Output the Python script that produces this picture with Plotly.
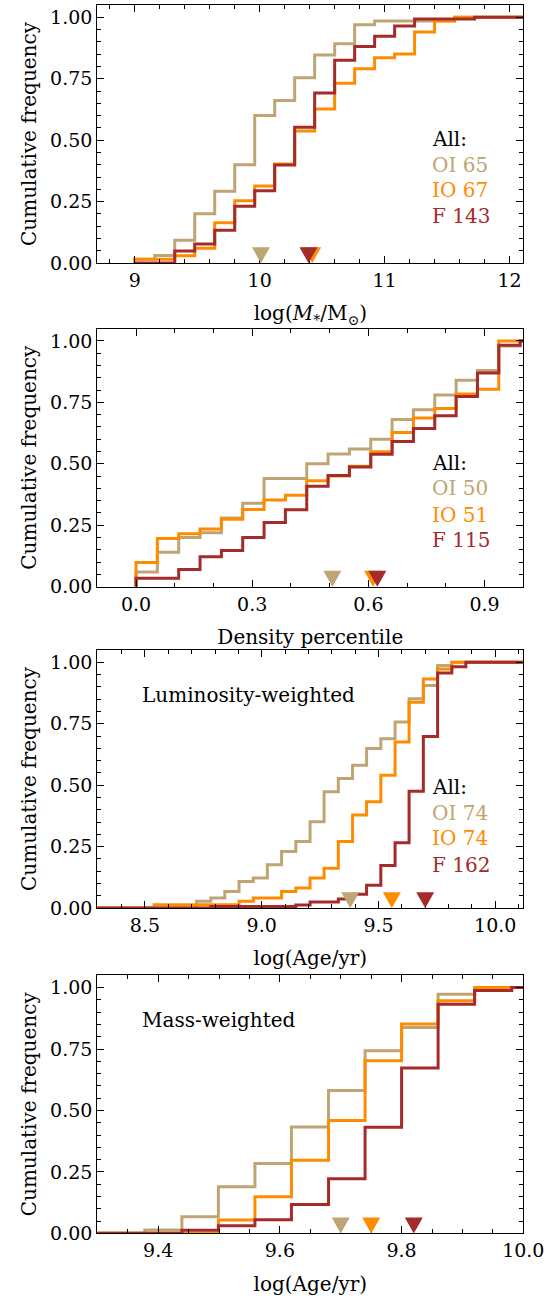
import plotly.graph_objects as go

FONT = "DejaVu Serif"
COL_OI = "#BFA573"
COL_IO = "#FF8C00"
COL_F = "#A52A2A"
series_names = ["OI", "IO", "F"]
series_colors = [COL_OI, COL_IO, COL_F]

# ---------------- Panel 1: stellar mass ----------------
mass_edges = [9.00, 9.16, 9.32, 9.48, 9.64, 9.80, 9.96, 10.12, 10.28, 10.44, 10.60,
              10.76, 10.92, 11.08, 11.24, 11.40, 11.56, 11.72, 11.88, 12.04, 12.20]
mass_OI_cum = [1, 2, 6, 13, 19, 26, 39, 43, 49, 55, 58, 63, 64, 64, 64, 64, 65, 65, 65, 65]
mass_IO_cum = [1, 1, 2, 4, 11, 17, 21, 27, 36, 42, 49, 53, 56, 57, 63, 66, 67, 67, 67, 67]
mass_F_cum = [0, 0, 7, 11, 19, 33, 42, 57, 79, 99, 118, 126, 132, 138, 142, 142, 142, 143, 143, 143]
mass_N = [65, 67, 143]
mass_medians = [10.01, 10.42, 10.39]
mass_xticks = [9, 10, 11, 12]
mass_xticktext = ["9", "10", "11", "12"]

# ---------------- Panel 2: density percentile ----------------
dens_edges = [0.0000, 0.0551, 0.1102, 0.1653, 0.2204, 0.2755, 0.3306, 0.3857, 0.4408, 0.4959,
              0.5510, 0.6061, 0.6612, 0.7163, 0.7714, 0.8265, 0.8816, 0.9367, 0.9918, 1.0469]
dens_OI_cum = [3, 7, 10, 11, 14, 17, 22, 22, 25, 27, 28, 30, 34, 36, 39, 42, 44, 49, 50]
dens_IO_cum = [5, 10, 11, 12, 14, 16, 18, 19, 22, 23, 25, 28, 32, 35, 37, 40, 41, 51, 51]
dens_F_cum = [4, 4, 8, 14, 17, 23, 30, 36, 47, 52, 56, 62, 68, 74, 80, 89, 100, 113, 115]
dens_N = [50, 51, 115]
dens_medians = [0.507, 0.612, 0.623]
dens_xticks = [0.0, 0.3, 0.6, 0.9]
dens_xticktext = ["0.0", "0.3", "0.6", "0.9"]

# ---------------- Panel 3: luminosity-weighted age ----------------
lum_edges = [8.296, 8.357, 8.417, 8.478, 8.539, 8.600, 8.660, 8.721, 8.782, 8.842, 8.903,
             8.964, 9.024, 9.085, 9.146, 9.207, 9.267, 9.328, 9.389, 9.449, 9.510, 9.571,
             9.631, 9.692, 9.753, 9.814, 9.874, 9.935, 9.996, 10.056, 10.117]
lum_OI_cum = [0, 0, 0, 0, 0, 0, 0, 2, 3, 5, 8, 9, 13, 17, 20, 26, 35, 39, 43, 48,
              51, 56, 63, 67, 73, 74, 74, 74, 74, 74]
lum_IO_cum = [0, 0, 0, 0, 1, 1, 1, 1, 1, 1, 2, 3, 3, 5, 6, 9, 12, 20, 28, 32,
              40, 50, 62, 69, 72, 74, 74, 74, 74, 74]
lum_F_cum = [0, 0, 0, 0, 0, 0, 0, 0, 1, 1, 1, 1, 1, 1, 2, 4, 4, 6, 9, 15,
             28, 43, 77, 113, 155, 159, 162, 162, 162, 162]
lum_N = [74, 74, 162]
lum_medians = [9.379, 9.557, 9.70]
lum_xticks = [8.5, 9.0, 9.5, 10.0]
lum_xticktext = ["8.5", "9.0", "9.5", "10.0"]

# ---------------- Panel 4: mass-weighted age ----------------
mw_edges = [9.258, 9.318, 9.378, 9.439, 9.499, 9.559, 9.619, 9.680, 9.740, 9.800,
            9.860, 9.920, 9.981, 10.041]
mw_OI_cum = [0, 0, 1, 5, 14, 21, 32, 43, 55, 62, 72, 74, 74]
mw_IO_cum = [0, 0, 0, 0, 4, 11, 22, 34, 52, 63, 70, 74, 74]
mw_F_cum = [0, 0, 0, 2, 5, 9, 19, 36, 70, 109, 151, 160, 162]
mw_N = [74, 74, 162]
mw_medians = [9.70, 9.75, 9.82]
mw_xticks = [9.4, 9.6, 9.8, 10.0]
mw_xticktext = ["9.4", "9.6", "9.8", "10.0"]

y_ticks = [0.0, 0.25, 0.5, 0.75, 1.0]
y_ticktext = ["0.00", "0.25", "0.50", "0.75", "1.00"]

panels = [
    dict(edges=mass_edges, cums=[mass_OI_cum, mass_IO_cum, mass_F_cum], N=mass_N,
         med=mass_medians, xr=[8.70, 12.11], tv=mass_xticks, tt=mass_xticktext,
         minor=(9.0, 0.2), title="log(<i>M</i><sub>*</sub>/M<sub>⊙</sub>)",
         legend=True, legend_y=[0.48, 0.38, 0.283, 0.182], label=None),
    dict(edges=dens_edges, cums=[dens_OI_cum, dens_IO_cum, dens_F_cum], N=dens_N,
         med=dens_medians, xr=[-0.10, 1.00], tv=dens_xticks, tt=dens_xticktext,
         minor=(0.0, 0.1), title="Density percentile",
         legend=True, legend_y=[0.478, 0.381, 0.278, 0.181], label=None),
    dict(edges=lum_edges, cums=[lum_OI_cum, lum_IO_cum, lum_F_cum], N=lum_N,
         med=lum_medians, xr=[8.296, 10.12], tv=lum_xticks, tt=lum_xticktext,
         minor=(8.5, 0.1), title="log(Age/yr)",
         legend=True, legend_y=[0.470, 0.369, 0.270, 0.167], label="Luminosity-weighted"),
    dict(edges=mw_edges, cums=[mw_OI_cum, mw_IO_cum, mw_F_cum], N=mw_N,
         med=mw_medians, xr=[9.30, 10.00], tv=mw_xticks, tt=mw_xticktext,
         minor=(9.4, 0.05), title="log(Age/yr)",
         legend=False, legend_y=None, label="Mass-weighted"),
]

W, H = 556, 1299
frame_left, frame_right = 97.3, 523.3
frame_bottoms = [263.0, 586.7, 908.0, 1233.3]
frame_h = 258.0

fig = go.Figure()
layout = dict(width=W, height=H, autosize=False, margin=dict(l=0, r=0, t=0, b=0, pad=0),
              paper_bgcolor="white", plot_bgcolor="white", showlegend=False,
              font=dict(family=FONT, size=19, color="black"))
annotations = []
shapes = []

for i, p in enumerate(panels):
    idx = "" if i == 0 else str(i + 1)
    xa, ya = "x" + idx, "y" + idx
    for cum, n, col in zip(p["cums"], p["N"], series_colors):
        vals = [c / n for c in cum]
        xs = [p["edges"][0]] + list(p["edges"])
        ys = [0.0] + vals + [vals[-1]]
        fig.add_trace(go.Scatter(x=xs, y=ys, mode="lines", line=dict(color=col, width=3, shape="hv"),
                                 xaxis=xa, yaxis=ya, hoverinfo="skip"))
    for m, col in zip(p["med"], series_colors):
        shapes.append(dict(type="path", xref=xa, yref=ya, xsizemode="pixel", ysizemode="pixel",
                           xanchor=m, yanchor=0.032, path="M -9,8 L 9,8 L 0,-8 Z",
                           fillcolor=col, line=dict(width=0), layer="above"))
    b = frame_bottoms[i]
    dom_y = [1 - b / H, 1 - (b - frame_h) / H]
    ax_common = dict(showline=True, linecolor="black", linewidth=1.2, mirror="allticks",
                     ticks="inside", ticklen=7, tickwidth=1, tickcolor="black",
                     showgrid=False, zeroline=False, automargin=False,
                     tickfont=dict(family=FONT, size=19, color="black"))
    layout["xaxis" + idx] = dict(ax_common, domain=[frame_left / W, frame_right / W],
                                 anchor=ya, range=p["xr"], tickmode="array",
                                 tickvals=p["tv"], ticktext=p["tt"],
                                 minor=dict(ticks="inside", ticklen=4, tickwidth=1, tickcolor="black",
                                            tickmode="linear", tick0=p["minor"][0], dtick=p["minor"][1],
                                            showgrid=False),
                                 title=dict(text=p["title"], font=dict(family=FONT, size=20),
                                            standoff=16))
    layout["yaxis" + idx] = dict(ax_common, domain=dom_y, anchor=xa, range=[0, 1.05],
                                 tickmode="array", tickvals=y_ticks, ticktext=y_ticktext,
                                 minor=dict(ticks="inside", ticklen=4, tickwidth=1, tickcolor="black",
                                            tickmode="linear", tick0=0, dtick=0.05, showgrid=False),
                                 title=dict(text="Cumulative frequency", font=dict(family=FONT, size=20),
                                            standoff=8))
    if p["legend"]:
        texts = ["All:"] + [f"{s} {n}" for s, n in zip(series_names, p["N"])]
        cols = ["black"] + series_colors
        for t, c, yy in zip(texts, cols, p["legend_y"]):
            annotations.append(dict(text=t, xref=xa + " domain", yref=ya + " domain",
                                    x=(430 - frame_left) / (frame_right - frame_left), y=yy,
                                    xanchor="left", yanchor="middle", showarrow=False,
                                    font=dict(family=FONT, size=20, color=c)))
    if p["label"]:
        annotations.append(dict(text=p["label"], xref=xa + " domain", yref=ya + " domain",
                                x=(140 - frame_left) / (frame_right - frame_left), y=0.826,
                                xanchor="left", yanchor="middle", showarrow=False,
                                font=dict(family=FONT, size=20, color="black")))

layout["annotations"] = annotations
layout["shapes"] = shapes
fig.update_layout(**layout)
fig.write_html("out.html", config={"responsive": False})
